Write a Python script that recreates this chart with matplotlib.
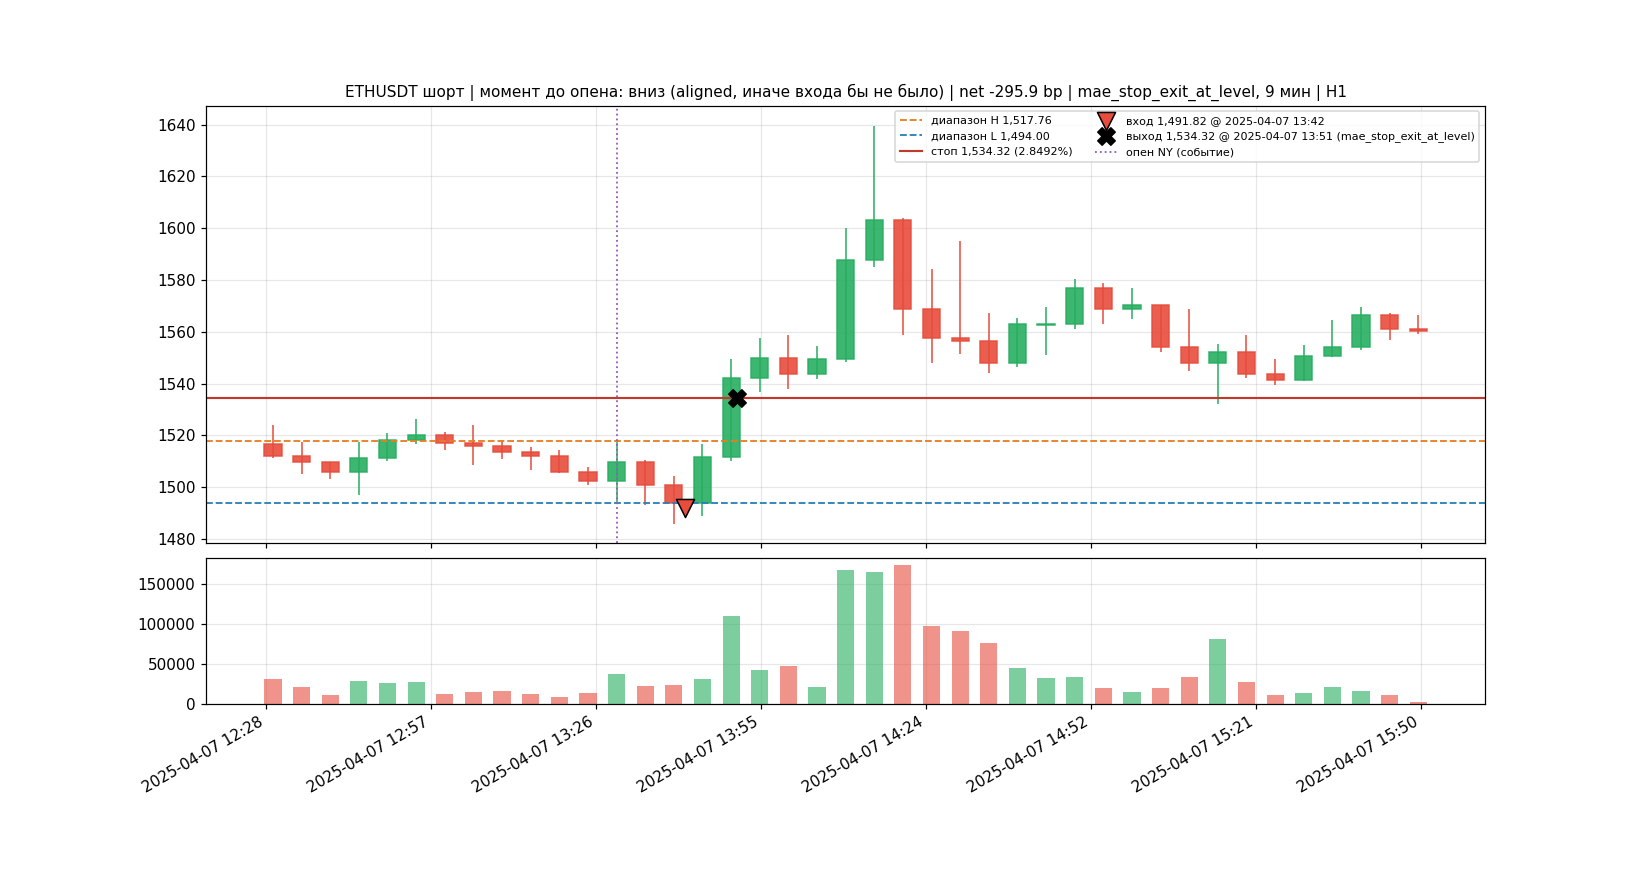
import matplotlib
matplotlib.use("Agg")
import matplotlib.pyplot as plt
import matplotlib.dates as mdates
import numpy as np
import pandas as pd

# 5-min candles, ETHUSDT
times = pd.date_range("2025-04-07 12:30", periods=41, freq="5min")
opens = [1516.6, 1512.1, 1509.7, 1505.8, 1511.1, 1518.0, 1520.1, 1517.0, 1515.8, 1513.5,
         1512.0, 1505.8, 1502.3, 1509.7, 1500.9, 1493.9, 1511.6, 1542.1, 1549.8, 1543.6,
         1549.4, 1587.6, 1603.0, 1568.7, 1557.6, 1556.3, 1547.8, 1562.8, 1562.9, 1577.1,
         1568.7, 1570.2, 1554.0, 1547.8, 1552.1, 1543.6, 1541.2, 1550.5, 1554.0, 1566.3,
         1561.1]
highs = [1524.1, 1517.6, 1509.8, 1517.3, 1521.0, 1526.4, 1521.4, 1524.1, 1518.0, 1515.5,
         1514.4, 1507.9, 1518.0, 1510.6, 1504.1, 1516.7, 1549.3, 1557.7, 1558.8, 1554.5,
         1600.0, 1639.7, 1603.9, 1584.2, 1594.9, 1567.2, 1565.3, 1569.6, 1580.4, 1578.8,
         1576.9, 1570.2, 1568.8, 1555.3, 1558.8, 1549.5, 1554.9, 1564.7, 1569.6, 1567.2,
         1566.5]
lows = [1511.3, 1505.2, 1503.2, 1496.8, 1510.2, 1516.7, 1514.2, 1508.6, 1510.9, 1506.4,
        1505.6, 1500.9, 1494.2, 1492.9, 1485.9, 1488.7, 1509.9, 1536.9, 1537.9, 1541.8,
        1548.5, 1585.1, 1558.9, 1548.1, 1551.6, 1543.9, 1546.2, 1551.2, 1561.2, 1563.0,
        1564.9, 1552.3, 1545.0, 1531.9, 1542.3, 1539.6, 1540.8, 1550.2, 1553.1, 1557.0,
        1559.2]
closes = [1511.9, 1509.7, 1505.8, 1511.2, 1518.1, 1520.1, 1517.0, 1515.7, 1513.5, 1512.0,
          1505.8, 1502.3, 1509.7, 1500.7, 1493.9, 1511.6, 1542.1, 1549.8, 1543.6, 1549.4,
          1587.6, 1603.0, 1568.7, 1557.5, 1556.3, 1547.8, 1562.9, 1563.0, 1577.1, 1568.7,
          1570.2, 1554.0, 1547.8, 1552.1, 1543.5, 1541.2, 1550.5, 1554.0, 1566.3, 1561.0,
          1560.2]
volumes = [31000, 20900, 10900, 28400, 25900, 27200, 12100, 14600, 15900, 12100,
           8400, 13400, 37200, 22200, 23400, 31000, 110000, 42300, 47300, 20900,
           167800, 165300, 174000, 97500, 91200, 76200, 44800, 32200, 33500, 19700,
           14600, 19700, 33500, 81200, 27200, 10900, 13400, 20900, 15900, 10900,
           2100]

range_high = 1517.76
range_low = 1494.00
stop_price = 1534.32
stop_pct = 2.8492
entry_time = pd.Timestamp("2025-04-07 13:42")
entry_price = 1491.82
exit_time = pd.Timestamp("2025-04-07 13:51")
exit_price = 1534.32
ny_open = pd.Timestamp("2025-04-07 13:30")

UP = "#27ae60"
DOWN = "#e74c3c"

x = mdates.date2num(times)
o = np.array(opens)
c = np.array(closes)
cols = [UP if cc >= oo else DOWN for oo, cc in zip(o, c)]
w = 0.6 * 5 / 1440

fig, (ax, axv) = plt.subplots(2, 1, figsize=(15, 8), sharex=True,
                              gridspec_kw={"height_ratios": [3, 1], "hspace": 0.05})

# candles
ax.vlines(x, lows, highs, colors=cols, linewidth=1)
ax.bar(x, np.abs(c - o), bottom=np.minimum(o, c), width=w, color=cols,
       edgecolor=cols, linewidth=1, alpha=0.9)

ax.axhline(range_high, color="#e67e22", ls="--", lw=1.2, label=f"диапазон H {range_high:,.2f}")
ax.axhline(range_low, color="#2980b9", ls="--", lw=1.2, label=f"диапазон L {range_low:,.2f}")
ax.axhline(stop_price, color="#c0392b", ls="-", lw=1.4, label=f"стоп {stop_price:,.2f} ({stop_pct:.4f}%)")
ax.scatter([mdates.date2num(entry_time)], [entry_price], marker="v", s=140, color=DOWN,
           edgecolors="black", linewidths=1, zorder=5,
           label=f"вход {entry_price:,.2f} @ {entry_time:%Y-%m-%d %H:%M}")
ax.scatter([mdates.date2num(exit_time)], [exit_price], marker="X", s=130, color="black", zorder=5,
           label=f"выход {exit_price:,.2f} @ {exit_time:%Y-%m-%d %H:%M} (mae_stop_exit_at_level)")
ax.axvline(mdates.date2num(ny_open), color="#9b59b6", ls=":", lw=1.2, label="опен NY (событие)")

ax.set_title("ETHUSDT шорт | момент до опена: вниз (aligned, иначе входа бы не было) | "
             "net -295.9 bp | mae_stop_exit_at_level, 9 мин | H1", fontsize=10)
ax.legend(loc="upper right", fontsize=7.3, ncol=2)
ax.grid(alpha=0.3)
ax.set_axisbelow(True)

# volume
vol_cols = [UP if cc >= oo else DOWN for oo, cc in zip(o, c)]
axv.bar(x, volumes, width=w, color=vol_cols, alpha=0.6)
axv.grid(alpha=0.3)
axv.set_axisbelow(True)
axv.xaxis.set_major_formatter(mdates.DateFormatter("%Y-%m-%d %H:%M"))

fig.autofmt_xdate()
fig.savefig("out.png", dpi=110)
